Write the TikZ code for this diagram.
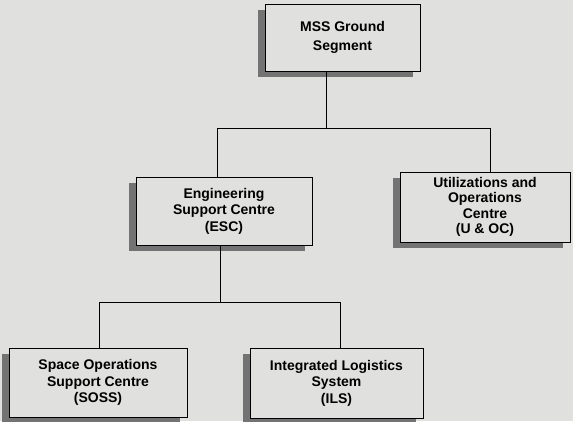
\documentclass[tikz,border=0pt]{standalone}
\usepackage{fontspec}
\setmainfont{Liberation Sans}
\usepackage{tikz}
\usetikzlibrary{positioning,shadows}
\usepackage{xcolor}
\definecolor{paper}{RGB}{224,224,222}
\definecolor{shade}{RGB}{115,115,115}

\begin{document}
\begin{tikzpicture}[x=1pt, y=-1pt,
    unit/.style={draw=black, line width=1pt, fill=paper, align=center,
      font=\fontsize{14}{16.5}\selectfont\bfseries, inner sep=0pt,
      drop shadow={shadow xshift=-7pt, shadow yshift=-6pt, fill=shade, opacity=1}},
    link/.style={line width=0.7pt}]
  % Background
  \fill[paper] (0,0) rectangle (573,421);
  \useasboundingbox (0,0) rectangle (573,421);

  % Boxes
  \node[unit, minimum width=155pt, minimum height=67pt,
    font=\fontsize{14}{19}\selectfont\bfseries] (mss) at (342.5,37.5)
    {MSS Ground\\Segment};
  \node[unit, minimum width=176pt, minimum height=68pt] (esc) at (224,211)
    {Engineering\\Support Centre\\(ESC)};
  \node[unit, minimum width=170pt, minimum height=70pt,
    font=\fontsize{14}{15.5}\selectfont\bfseries] (uoc) at (485,207)
    {Utilizations and\\Operations\\Centre\\(U \& OC)};
  \node[unit, minimum width=178pt, minimum height=69pt] (soss) at (98,382.5)
    {Space Operations\\Support Centre\\(SOSS)};
  \node[unit, minimum width=173pt, minimum height=70pt] (ils) at (336.5,383)
    {Integrated Logistics\\System\\(ILS)};

  % Junctions
  \coordinate (top) at (326,128);
  \coordinate (topl) at (217,128);
  \coordinate (topr) at (490,128);
  \coordinate (mid) at (220,302);
  \coordinate (midl) at (99,302);
  \coordinate (midr) at (340,302);

  % Links
  \draw[link] (mss.south -| top) -- (top);
  \draw[link] (esc.north -| topl) |- (topr) -- (uoc.north -| topr);
  \draw[link] (esc.south -| mid) -- (mid);
  \draw[link] (soss.north -| midl) |- (midr) -- (ils.north -| midr);
\end{tikzpicture}
\end{document}
